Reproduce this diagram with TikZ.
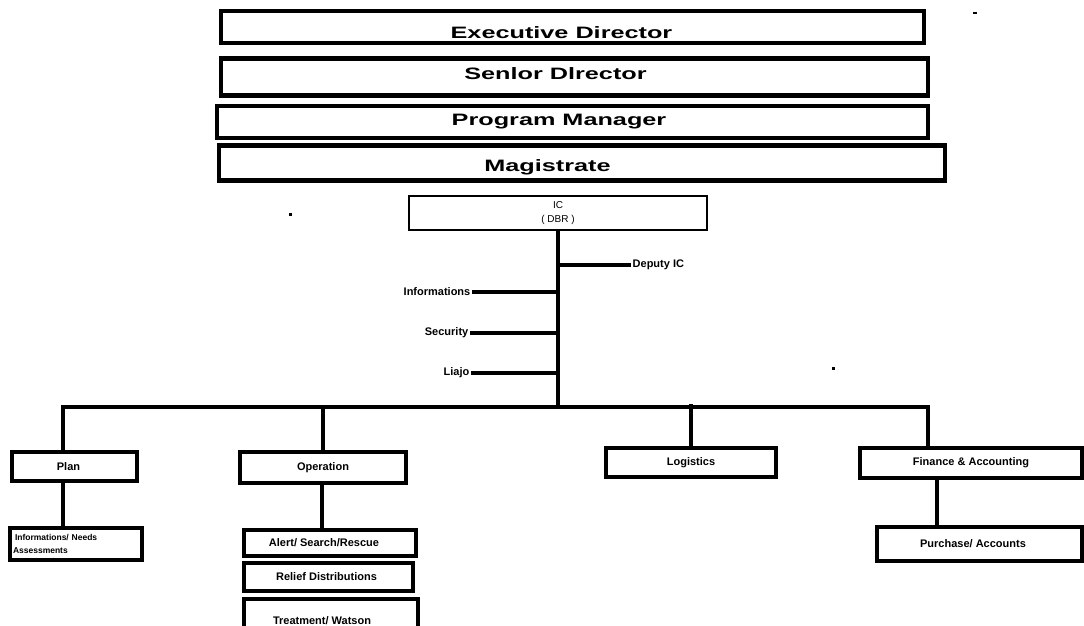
\documentclass[tikz,border=0pt]{standalone}
\usepackage{fontspec}
\setmainfont{Liberation Sans}
\newcommand{\wide}[1]{\scalebox{1.53}[1]{#1}}
\begin{document}
\begin{tikzpicture}[x=1pt,y=-1pt,
  topbox/.style={draw, line width=4.2pt, inner sep=0pt},
  box/.style={draw, line width=3.2pt, inner sep=0pt, font=\bfseries\fontsize{11}{13}\selectfont},
  toplbl/.style={font=\bfseries\fontsize{16.5}{18}\selectfont, inner sep=0pt},
  conn/.style={line width=3.2pt},
  lbl/.style={font=\bfseries\fontsize{11}{13}\selectfont, inner sep=1.5pt},
  speck/.style={fill=black}]
\clip (0,0) rectangle (1084,626);
\fill[white] (0,0) rectangle (1084,626);

% top boxes
\node[topbox, minimum width=703pt, minimum height=32pt,
  label={[toplbl, xshift=-11pt, yshift=-6pt]center:\wide{Executive Director}}] (exec) at (572.5,27) {};
\node[topbox, minimum width=707pt, minimum height=37pt,
  label={[toplbl, xshift=-19pt, yshift=3pt]center:\wide{Senlor Dlrector}}] (senior) at (574.5,77) {};
\node[topbox, minimum width=711pt, minimum height=32pt,
  label={[toplbl, xshift=-13.5pt, yshift=0pt]center:\wide{Program Manager}}] (pm) at (572.5,122) {};
\node[topbox, minimum width=726pt, minimum height=35pt,
  label={[toplbl, xshift=-34.5pt, yshift=-4pt]center:\wide{Magistrate}}] (mag) at (582,163) {};

% IC
\node[draw, line width=2.8pt, minimum width=298pt, minimum height=34pt, inner sep=0pt,
  align=center, font=\fontsize{10}{14}\selectfont] (ic) at (558,213) {IC\\( DBR )};

% side labels
\node[lbl, anchor=west] (dep) at (631,265) {Deputy IC};
\node[lbl, anchor=east] (info) at (472,292) {Informations};
\node[lbl, anchor=east] (sec) at (470,333) {Security};
\node[lbl, anchor=east] (liajo) at (471,373) {Liajo};

% level boxes
\node[box, minimum width=125pt, minimum height=29pt] (plan) at (74.5,466.5) {\hspace*{-12pt}Plan};
\node[box, minimum width=166pt, minimum height=31pt] (op) at (323,467.5) {Operation};
\node[box, minimum width=170pt, minimum height=29pt] (log) at (691,462.5) {Logistics};
\node[box, minimum width=222pt, minimum height=30pt] (fin) at (971,463) {Finance \& Accounting};

% sub boxes
\node[draw, line width=3.2pt, minimum width=132pt, minimum height=32pt, inner sep=0pt,
  text width=126pt, align=left, font=\bfseries\fontsize{8.5}{14}\selectfont] (need) at (76,544)
  {\hspace*{2pt}Informations/ Needs\\[-1pt]Assessments};
\node[box, minimum width=172pt, minimum height=26pt] (alert) at (330,543) {\hspace*{-12pt}Alert/ Search/Rescue};
\node[box, minimum width=169pt, minimum height=28pt] (relief) at (328.5,577) {\hspace*{-4pt}Relief Distributions};
\node[box, minimum width=174pt, minimum height=50pt] (treat) at (331,624) {\raisebox{7pt}{\hspace*{-18pt}Treatment/ Watson}};
\node[box, minimum width=205pt, minimum height=34pt] (purch) at (979.5,544) {\hspace*{-13pt}Purchase/ Accounts};

% connectors
\coordinate (bl) at (63,407);
\coordinate (br) at (928,407);
\draw[conn] ([xshift=-1.6pt]bl) -- ([xshift=1.6pt]br);
\draw[conn] (ic.south) -- (ic.south |- bl);
\draw[conn] (ic.south |- dep.west) -- (dep.west);
\draw[conn] (info.east) -- (info.east -| ic.south);
\draw[conn] (sec.east) -- (sec.east -| ic.south);
\draw[conn] (liajo.east) -- (liajo.east -| ic.south);
\draw[conn] (bl) -- (bl |- plan.north);
\draw[conn] (op.north |- bl) -- (op.north);
\draw[conn] ([yshift=3pt]log.north |- bl) -- (log.north);
\draw[conn] (br) -- (br |- fin.north);
\draw[conn] (plan.south -| bl) -- (bl |- need.north);
\draw[conn] (op.south -| 322,0) -- (alert.north -| 322,0);
\draw[conn] (fin.south -| 937,0) -- (purch.north -| 937,0);

% specks
\fill[speck] (289,213) rectangle (292,216);
\fill[speck] (832,367) rectangle (835,370);
\fill[speck] (973,12) rectangle (977,14);
\end{tikzpicture}
\end{document}
